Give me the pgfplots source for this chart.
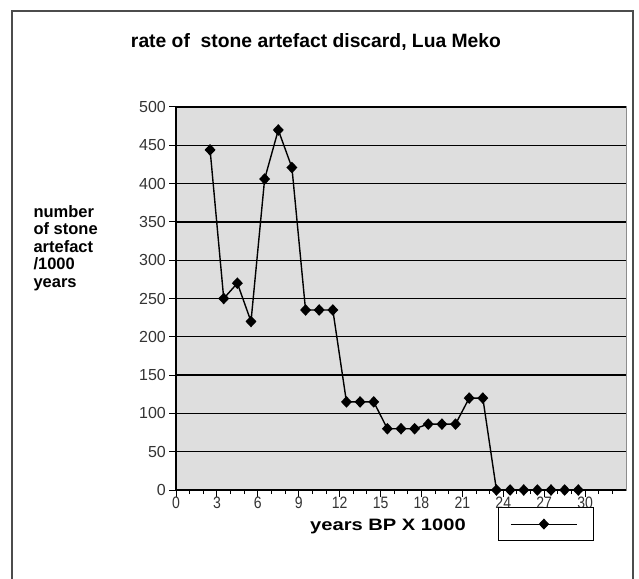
\documentclass[border=0pt]{standalone}
\usepackage{fontspec}
\setmainfont{Liberation Sans}
\usepackage{pgfplots}
\usepackage{pgfplotstable}
\pgfplotsset{compat=1.18}
\pgfplotstableread{
x y
2.5 444
3.5 250
4.5 270
5.5 220
6.5 406
7.5 470
8.5 421
9.5 235
10.5 235
11.5 235
12.5 115
13.5 115
14.5 115
15.5 80
16.5 80
17.5 80
18.5 86
19.5 86
20.5 86
21.5 120
22.5 120
23.5 0
24.5 0
25.5 0
26.5 0
27.5 0
28.5 0
29.5 0
}\datatable
\begin{document}
\begin{tikzpicture}[x=1pt,y=1pt]
\path[use as bounding box] (0,0) rectangle (639,578);
\draw[line width=1.5pt, black!70] (12,-5) -- (12,567) -- (633,567) -- (633,-5);
\begin{axis}[
  at={(176pt,88pt)}, anchor=south west,
  scale only axis, width=450pt, height=383pt,
  xmin=0, xmax=33, ymin=0, ymax=500,
  clip=false,
  /pgf/number format/assume math mode=true,
  axis background/.style={fill=black!13, draw=black!45, line width=1pt},
  axis x line*=bottom, axis y line*=left,
  axis line style={line width=1.3pt, black},
  ytick={0,50,...,500},
  xtick={0,3,...,30},
  minor xtick={1,2,4,5,7,8,10,11,13,14,16,17,19,20,22,23,25,26,28,29,31,32},
  ymajorgrids,
  major grid style={black, line width=1.3pt},
  tick align=outside,
  major tick length=7pt, minor tick length=4pt,
  every tick/.style={black, line width=1pt},
  yticklabel style={font=\fontsize{16}{16}\selectfont, text=black!80, inner sep=3pt},
  xticklabel style={font=\fontsize{16.5}{16.5}\selectfont, text=black!80, xscale=0.85, inner sep=1pt, yshift=1pt},
  legend style={at={(0.822,-0.089)}, anchor=center, draw=black, line width=1pt,
    inner xsep=12pt, inner ysep=12pt, fill=white},
  legend image code/.code={\draw[mark repeat=2,mark phase=2,#1,line width=1pt] plot coordinates {(0pt,0pt) (33pt,0pt) (66pt,0pt)};},
]
\addplot[black, line width=1.4pt, mark=diamond*, mark size=4.8pt,
  mark options={fill=black, xscale=1.25, solid}] table {\datatable};
\addlegendentry{}
\end{axis}
\node[font=\bfseries\fontsize{19.3}{19.3}\selectfont] at (316,536) {rate of\ \ stone artefact discard, Lua Meko};
\node[anchor=west, align=left, font=\bfseries\fontsize{16.5}{17.4}\selectfont] at (30,330) {number\\of stone\\artefact\\/1000\\years};
\node[font=\bfseries\fontsize{16.5}{16.5}\selectfont, xscale=1.22] at (388,52) {years BP X 1000};
\end{tikzpicture}
\end{document}
